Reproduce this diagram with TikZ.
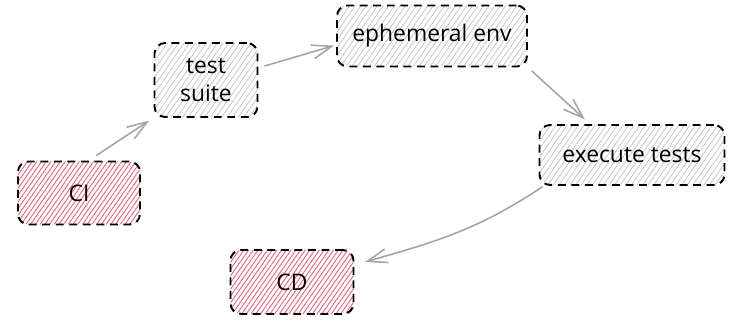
\documentclass[tikz,border=0pt]{standalone}
\usepackage{fontspec}
\setmainfont{Open Sans}
\usepackage{tikz}
\usetikzlibrary{positioning,patterns.meta,arrows.meta}

\definecolor{hatchred}{RGB}{226,118,134}
\definecolor{hatchgray}{RGB}{196,196,196}
\definecolor{arrowgray}{RGB}{165,165,165}

\tikzset{
  box/.style={draw=black, line width=1.1pt, dash pattern=on 4.5pt off 3.2pt,
    rounded corners=6pt, align=center, inner sep=0pt,
    font=\fontsize{13}{16}\selectfont},
  redbox/.style={box,
    pattern={Lines[angle=55,distance=2.2pt,line width=0.6pt]}, pattern color=hatchred},
  graybox/.style={box,
    pattern={Lines[angle=55,distance=2.6pt,line width=0.45pt]}, pattern color=hatchgray},
  flow/.style={draw=arrowgray, line width=0.9pt,
    -{Straight Barb[length=4mm,width=2.8mm,line width=0.9pt]}},
}

\begin{document}
\begin{tikzpicture}
      \useasboundingbox (-1.58,-2.58) rectangle (13.0,3.86);
      % the two stages outside the loop are red
      \node[redbox, minimum width=2.44cm, minimum height=1.26cm] (CI) {CI};
      \node[on grid, graybox, minimum width=2.06cm, minimum height=1.48cm,
            above right=2.26cm and 2.54cm of CI] (Suite) {test\\suite};
      \node[on grid, graybox, minimum width=3.8cm, minimum height=1.22cm,
            above right=0.88cm and 4.52cm of Suite] (Env) {ephemeral env};
      \node[on grid, graybox, minimum width=3.7cm, minimum height=1.2cm,
            below right=2.38cm and 4.0cm of Env] (Exec) {execute tests};
      \node[on grid, redbox, minimum width=2.46cm, minimum height=1.28cm,
            below right=1.78cm and 4.26cm of CI] (CD) {CD};

      \draw[flow, shorten <=0.2cm, shorten >=0.12cm] ([xshift=0.18cm]CI.north) to (Suite.south west);
      \draw[flow, shorten <=0.14cm, shorten >=0.04cm] ([yshift=0.24cm]Suite.east) to ([yshift=-0.18cm]Env.west);
      \draw[flow, shorten <=0.1cm, shorten >=0.14cm] (Env.south east) to ([xshift=-0.84cm]Exec.north);
      \draw[flow, shorten <=0.02cm, shorten >=0.22cm] ([xshift=0.1cm]Exec.south west)
            to[out=214,in=16] ([yshift=0.34cm]CD.east);
\end{tikzpicture}
\end{document}
